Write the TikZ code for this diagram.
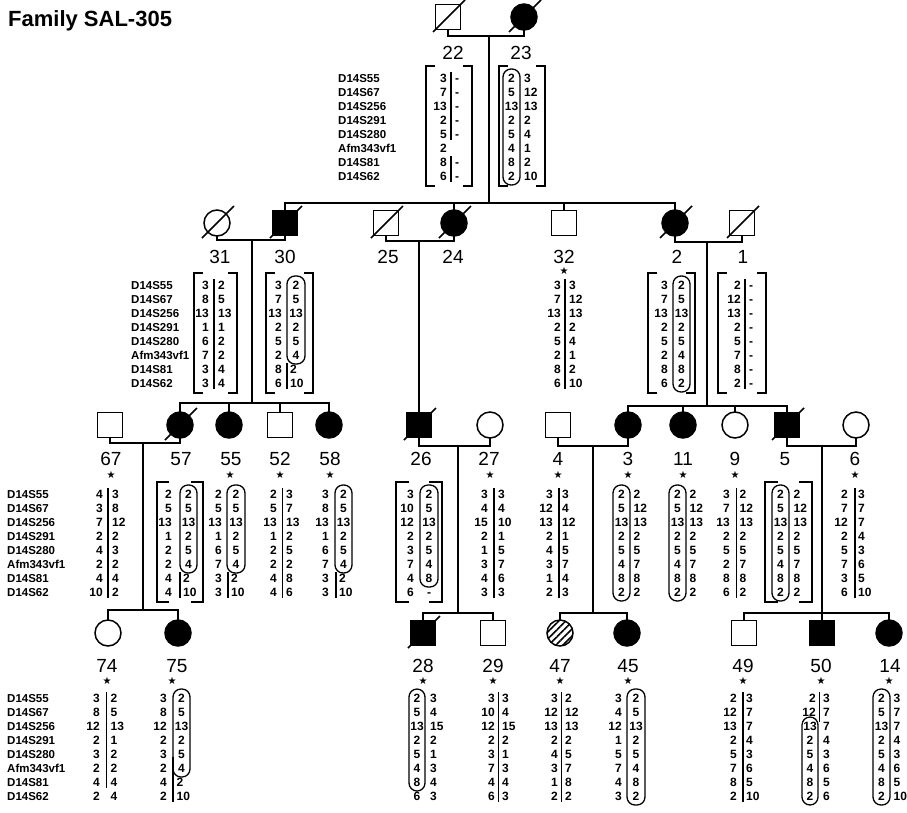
\documentclass[tikz,border=0pt]{standalone}
\usepackage{fontspec}
\setmainfont{Liberation Sans}
\newfontfamily\symfont{DejaVu Sans}
\usetikzlibrary{patterns.meta}

% column of alleles: #1 name prefix, #2 x, #3 y0, #4 anchor, #5 list, #6 first row
\newcommand{\acol}[6]{\foreach \v [count=\i from #6] in {#5} {\node[allele, anchor=#4] (#1\i) at (#2, #3+14*\i-14) {\v};}}
\newcommand{\markers}[3]{\foreach \m [count=\i] in {D14S55,D14S67,D14S256,D14S291,D14S280,Afm343vf1,D14S81,D14S62} {\node[marker] (#1\i) at (#2, #3+14*\i-14) {\m};}}
% bar: #1 x, #2 y0, #3 first row, #4 last row
\newcommand{\hbarx}[4]{\draw[hbar] (#1, #2+14*#3-20) -- (#1, #2+14*#4-8);}
% capsule: #1 x1, #2 x2, #3 y0, #4 first row, #5 last row
\newcommand{\caps}[5]{\draw[capsule] (#1, #3+14*#4-23) rectangle (#2, #3+14*#5-5);}
% brackets: #1 x, #2 y0, #3 arm length
\newcommand{\lbrk}[3]{\draw[brk] (#1+#3, #2-12) -- (#1, #2-12) -- (#1, #2+108) -- (#1+#3, #2+108);}
\newcommand{\rbrk}[3]{\draw[brk] (#1-#3, #2-12) -- (#1, #2-12) -- (#1, #2+108) -- (#1-#3, #2+108);}
\newcommand{\dec}[1]{\draw[line width=1.5pt] (#1.center) ++(-15,15) -- ++(32,-32);}

\tikzset{
  conn/.style={line width=1.5pt},
  person/.style={draw, line width=1.5pt, inner sep=0pt, outer sep=0pt},
  osq/.style={person, rectangle, minimum size=25pt, fill=white},
  fsq/.style={person, rectangle, minimum size=25pt, fill=black},
  ocirc/.style={person, circle, minimum size=26pt, fill=white},
  fcirc/.style={person, circle, minimum size=26pt, fill=black},
  hcirc/.style={person, circle, minimum size=26pt, pattern={Lines[angle=45,distance=5pt,line width=1.6pt]}},
  allele/.style={inner sep=0pt, font=\bfseries\fontsize{12}{12}\selectfont, text height=8.6pt, text depth=0pt},
  marker/.style={inner sep=0pt, font=\bfseries\fontsize{11.5}{12}\selectfont, text height=8.3pt, text depth=0pt, anchor=west},
  idlab/.style={inner sep=0pt, font=\fontsize{19}{19}\selectfont, text height=13.6pt, text depth=0pt},
  starlab/.style={inner sep=0pt, font=\symfont\fontsize{10}{10}\selectfont},
  capsule/.style={line width=1.3pt, rounded corners=8pt},
  hbar/.style={line width=1.3pt},
  brk/.style={line width=1.3pt},
}

\begin{document}
\begin{tikzpicture}[x=1pt, y=-1pt]
\useasboundingbox (0,0) rectangle (907,812);

\node[anchor=west, inner sep=0pt, font=\bfseries\fontsize{22}{22}\selectfont] (title) at (8,21) {Family SAL-305};

% ---------------- symbols ----------------
% Gen I
\node[osq] (p22) at (448,17) {}; \dec{p22}
\node[fcirc] (p23) at (524,17) {}; \dec{p23}
% Gen II
\node[ocirc] (p31) at (217,223) {}; \dec{p31}
\node[fsq] (p30) at (285,223) {}; \dec{p30}
\node[osq] (p25) at (386,223) {}; \dec{p25}
\node[fcirc] (p24) at (454,223) {}; \dec{p24}
\node[osq] (p32) at (564,223) {};
\node[fcirc] (p2) at (675,223) {}; \dec{p2}
\node[osq] (p1) at (742,223) {}; \dec{p1}
% Gen III
\node[osq] (p67) at (110,425) {};
\node[fcirc] (p57) at (180,425) {}; \dec{p57}
\node[fcirc] (p55) at (229,425) {};
\node[osq] (p52) at (280,425) {};
\node[fcirc] (p58) at (329,425) {};
\node[fsq] (p26) at (419,425) {}; \dec{p26}
\node[ocirc] (p27) at (490,425) {};
\node[osq] (p4) at (558,425) {};
\node[fcirc] (p3) at (628,425) {};
\node[fcirc] (p11) at (683,425) {};
\node[ocirc] (p9) at (735,425) {};
\node[fsq] (p5) at (787,425) {}; \dec{p5}
\node[ocirc] (p6) at (856,425) {};
% Gen IV
\node[ocirc] (p74) at (108,633) {};
\node[fcirc] (p75) at (178,633) {};
\node[fsq] (p28) at (423,633) {}; \dec{p28}
\node[osq] (p29) at (493,633) {};
\node[hcirc] (p47) at (560,633) {};
\node[fcirc] (p45) at (627,633) {};
\node[osq] (p49) at (744,633) {};
\node[fsq] (p50) at (822,633) {};
\node[fcirc] (p14) at (889,633) {};

% ---------------- connectors ----------------
\coordinate (m1) at (489,36);
\coordinate (s2) at (489,203);
\draw[conn] (p22.south) |- (m1) -| (p23.south);
\draw[conn] (m1) -- (s2);
\draw[conn] (p30.north) |- (s2) -| (p2.north);
\draw[conn] (p24.north) -- (p24.north |- s2);
\draw[conn] (p32.north) -- (p32.north |- s2);

\coordinate (m30) at (252,240);
\coordinate (m24) at (419,241);
\coordinate (m2) at (707,242);
\draw[conn] (p31.south) |- (m30) -| (p30.south);
\draw[conn] (p25.south) |- (m24) -| (p24.south);
\draw[conn] (p2.south) |- (m2) -| (p1.south);

\coordinate (s3a) at (252,403);
\draw[conn] (m30) -- (s3a);
\draw[conn] (p57.north) |- (s3a) -| (p58.north);
\draw[conn] (p55.north) -- (p55.north |- s3a);
\draw[conn] (p52.north) -- (p52.north |- s3a);
\draw[conn] (m24) -- (p26.north);
\coordinate (s3b) at (707,406);
\draw[conn] (m2) -- (s3b);
\draw[conn] (p3.north) |- (s3b) -| (p5.north);
\draw[conn] (p11.north) -- (p11.north |- s3b);
\draw[conn] (p9.north) -- (p9.north |- s3b);

\coordinate (m67) at (143,443);
\coordinate (m26) at (458,446);
\coordinate (m4) at (593,446);
\coordinate (m5) at (822,446);
\draw[conn] (p67.south) |- (m67) -| (p57.south);
\draw[conn] (p26.south) |- (m26) -| (p27.south);
\draw[conn] (p4.south) |- (m4) -| (p3.south);
\draw[conn] (p5.south) |- (m5) -| (p6.south);

\coordinate (s4a) at (143,610);
\coordinate (s4b) at (458,613);
\coordinate (s4c) at (593,613);
\coordinate (s4d) at (822,613);
\draw[conn] (m67) -- (s4a);
\draw[conn] (p74.north) |- (s4a) -| (p75.north);
\draw[conn] (m26) -- (s4b);
\draw[conn] (p28.north) |- (s4b) -| (p29.north);
\draw[conn] (m4) -- (s4c);
\draw[conn] (p47.north) |- (s4c) -| (p45.north);
\draw[conn] (m5) -- (s4d);
\draw[conn] (p49.north) |- (s4d) -| (p14.north);
\draw[conn] (p50.north) -- (s4d);

% ---------------- ID labels and stars ----------------
\node[idlab] (l22) at (453,53) {22};
\node[idlab] (l23) at (521,53) {23};
\node[idlab] (l31) at (220,257) {31};
\node[idlab] (l30) at (285,257) {30};
\node[idlab] (l25) at (388,257) {25};
\node[idlab] (l24) at (453,257) {24};
\node[idlab] (l32) at (564,257) {32};
\node[idlab] (l2) at (677,257) {2};
\node[idlab] (l1) at (743,257) {1};
\node[starlab] (st32) at (564,271) {★};

\node[idlab] (l67) at (111,459) {67};
\node[idlab] (l57) at (181,459) {57};
\node[idlab] (l55) at (231,459) {55};
\node[idlab] (l52) at (280,459) {52};
\node[idlab] (l58) at (330,459) {58};
\node[idlab] (l26) at (421,459) {26};
\node[idlab] (l27) at (489,459) {27};
\node[idlab] (l4) at (558,459) {4};
\node[idlab] (l3) at (628,459) {3};
\node[idlab] (l11) at (683,459) {11};
\node[idlab] (l9) at (735,459) {9};
\node[idlab] (l5) at (785,459) {5};
\node[idlab] (l6) at (855,459) {6};
\foreach \n/\x in {67/111,55/230,52/280,58/330,27/490,4/558,3/628,11/683,9/735,6/855}
  {\node[starlab] (st\n) at (\x,475) {★};}

\node[idlab] (l74) at (107,666) {74};
\node[idlab] (l75) at (177,666) {75};
\node[idlab] (l28) at (423,666) {28};
\node[idlab] (l29) at (493,666) {29};
\node[idlab] (l47) at (560,666) {47};
\node[idlab] (l45) at (628,666) {45};
\node[idlab] (l49) at (743,666) {49};
\node[idlab] (l50) at (821,666) {50};
\node[idlab] (l14) at (890,666) {14};
\foreach \n/\x in {74/107,75/172,28/423,29/493,47/560,45/628,49/743,50/821,14/889}
  {\node[starlab] (st\n) at (\x,681) {★};}

% ---------------- Gen I tables ----------------
\markers{mk1-}{338}{78}
% 22
\lbrk{426}{78}{9}
\acol{t22L}{447}{78}{east}{3,7,13,2,5,2,8,6}{1}
\hbarx{451}{78}{1}{5}
\hbarx{451}{78}{7}{8}
\acol{t22R}{455}{78}{west}{-,-,-,-,-}{1}
\acol{t22R}{455}{78}{west}{-,-}{7}
\rbrk{472}{78}{9}
% 23
\lbrk{499}{78}{9}
\caps{503}{520}{78}{1}{8}
\acol{t23L}{511.5}{78}{center}{2,5,13,2,5,4,8,2}{1}
\acol{t23R}{524}{78}{west}{3,12,13,2,4,1,2,10}{1}
\rbrk{545}{78}{9}

% ---------------- Gen II tables ----------------
\markers{mk2-}{131}{285}
% 31
\lbrk{194}{285}{9}
\acol{t31L}{209}{285}{east}{3,8,13,1,6,7,3,3}{1}
\hbarx{214}{285}{1}{8}
\acol{t31R}{218}{285}{west}{2,5,13,1,2,2,4,4}{1}
\rbrk{237}{285}{9}
% 30
\lbrk{266}{285}{9}
\acol{t30L}{282}{285}{east}{3,7,13,2,5,2,8,6}{1}
\caps{287}{305}{285}{1}{6}
\acol{t30R}{296}{285}{center}{2,5,13,2,5,4}{1}
\hbarx{287}{285}{7}{8}
\acol{t30R}{290}{285}{west}{2,10}{7}
\rbrk{313}{285}{9}
% 32
\acol{t32L}{561}{285}{east}{3,7,13,2,5,2,8,6}{1}
\hbarx{565}{285}{1}{8}
\acol{t32R}{569}{285}{west}{3,12,13,2,4,1,2,10}{1}
% 2
\lbrk{648}{285}{9}
\acol{t2L}{668}{285}{east}{3,7,13,2,5,2,8,6}{1}
\caps{673}{690}{285}{1}{8}
\acol{t2R}{681.5}{285}{center}{2,5,13,2,5,4,8,2}{1}
\rbrk{695}{285}{9}
% 1
\lbrk{718}{285}{9}
\acol{t1L}{741}{285}{east}{2,12,13,2,5,7,8,2}{1}
\hbarx{745}{285}{1}{8}
\acol{t1R}{749}{285}{west}{-,-,-,-,-,-,-,-}{1}
\rbrk{766}{285}{9}

% ---------------- Gen III tables ----------------
\markers{mk3-}{7}{494}
% 67
\acol{t67L}{103}{494}{east}{4,3,7,2,4,2,4,10}{1}
\hbarx{108}{494}{1}{8}
\acol{t67R}{112}{494}{west}{3,8,12,2,3,2,4,2}{1}
% 57
\lbrk{157}{494}{12}
\acol{t57L}{172}{494}{east}{2,5,13,1,2,2,4,4}{1}
\caps{180}{197}{494}{1}{6}
\acol{t57R}{188.5}{494}{center}{2,5,13,2,5,4}{1}
\hbarx{180}{494}{7}{8}
\acol{t57R}{183}{494}{west}{2,10}{7}
\rbrk{203}{494}{12}
% 55
\acol{t55L}{222}{494}{east}{2,5,13,1,6,7,3,3}{1}
\caps{227}{245}{494}{1}{6}
\acol{t55R}{236}{494}{center}{2,5,13,2,5,4}{1}
\hbarx{228}{494}{7}{8}
\acol{t55R}{231}{494}{west}{2,10}{7}
% 52
\acol{t52L}{277}{494}{east}{2,5,13,1,2,2,4,4}{1}
\hbarx{282.5}{494}{1}{8}
\acol{t52R}{286}{494}{west}{3,7,13,2,5,2,8,6}{1}
% 58
\acol{t58L}{329}{494}{east}{3,8,13,1,6,7,3,3}{1}
\caps{335}{352}{494}{1}{6}
\acol{t58R}{343.5}{494}{center}{2,5,13,2,5,4}{1}
\hbarx{336}{494}{7}{8}
\acol{t58R}{339}{494}{west}{2,10}{7}
% 26
\lbrk{396}{494}{13}
\acol{t26L}{414}{494}{east}{3,10,12,2,3,7,4,6}{1}
\caps{420}{438}{494}{1}{7}
\acol{t26R}{429}{494}{center}{2,5,13,2,5,4,8,-}{1}
\rbrk{442}{494}{13}
% 27
\acol{t27L}{488}{494}{east}{3,4,15,2,1,3,4,3}{1}
\hbarx{494}{494}{1}{8}
\acol{t27R}{498}{494}{west}{3,4,10,1,5,7,6,3}{1}
% 4
\acol{t4L}{553}{494}{east}{3,12,13,2,4,3,1,2}{1}
\hbarx{559}{494}{1}{8}
\acol{t4R}{562}{494}{west}{3,4,12,1,5,7,4,3}{1}
% 3
\caps{613}{630}{494}{1}{8}
\acol{t3L}{621.5}{494}{center}{2,5,13,2,5,4,8,2}{1}
\acol{t3R}{633.5}{494}{west}{2,12,13,2,5,7,8,2}{1}
% 11
\caps{669}{686}{494}{1}{8}
\acol{t11L}{677.5}{494}{center}{2,5,13,2,5,4,8,2}{1}
\acol{t11R}{689.5}{494}{west}{2,12,13,2,5,7,8,2}{1}
% 9
\acol{t9L}{730}{494}{east}{3,7,13,2,5,2,8,6}{1}
\hbarx{736.5}{494}{1}{8}
\acol{t9R}{739.5}{494}{west}{2,12,13,2,5,7,8,2}{1}
% 5
\lbrk{765}{494}{13}
\caps{772}{789}{494}{1}{8}
\acol{t5L}{780.5}{494}{center}{2,5,13,2,5,4,8,2}{1}
\acol{t5R}{793.5}{494}{west}{2,12,13,2,5,7,8,2}{1}
\rbrk{812}{494}{13}
% 6
\acol{t6L}{848}{494}{east}{2,7,12,2,5,7,3,6}{1}
\hbarx{855}{494}{1}{8}
\acol{t6R}{858}{494}{west}{3,7,7,4,3,6,5,10}{1}

% ---------------- Gen IV tables ----------------
\markers{mk4-}{7}{698}
% 74
\acol{t74L}{100}{698}{east}{3,8,12,2,3,2,4,2}{1}
\hbarx{106.5}{698}{1}{7}
\acol{t74R}{110.5}{698}{west}{2,5,13,1,2,2,4,4}{1}
% 75
\acol{t75L}{167}{698}{east}{3,8,12,2,3,2,4,2}{1}
\caps{173}{190}{698}{1}{6}
\acol{t75R}{181.5}{698}{center}{2,5,13,2,5,4}{1}
\draw[hbar] (173,757) -- (173,802);
\acol{t75R}{176.5}{698}{west}{2,10}{7}
% 28
\caps{409}{425}{698}{1}{7}
\acol{t28L}{417}{698}{center}{2,5,13,2,5,4,8,6}{1}
\acol{t28R}{430}{698}{west}{3,4,15,2,1,3,4,3}{1}
% 29
\acol{t29L}{495}{698}{east}{3,10,12,2,3,7,4,6}{1}
\hbarx{498.5}{698}{1}{8}
\acol{t29R}{502}{698}{west}{3,4,15,2,1,3,4,3}{1}
% 47
\acol{t47L}{558}{698}{east}{3,12,13,2,4,3,1,2}{1}
\hbarx{561.5}{698}{1}{8}
\acol{t47R}{565}{698}{west}{2,12,13,2,5,7,8,2}{1}
% 45
\acol{t45L}{622}{698}{east}{3,4,12,1,5,7,4,3}{1}
\caps{627}{645}{698}{1}{8}
\acol{t45R}{636}{698}{center}{2,5,13,2,5,4,8,2}{1}
% 49
\acol{t49L}{737}{698}{east}{2,12,13,2,5,7,8,2}{1}
\hbarx{743}{698}{1}{8}
\acol{t49R}{746}{698}{west}{3,7,7,4,3,6,5,10}{1}
% 50
\acol{t50L}{816}{698}{east}{2,12}{1}
\draw[hbar] (819.5,692) -- (819.5,722);
\caps{802}{818}{698}{3}{8}
\acol{t50L}{810}{698}{center}{13,2,5,4,8,2}{3}
\acol{t50R}{823}{698}{west}{3,7,7,4,3,6,5,6}{1}
% 14
\caps{873}{890}{698}{1}{8}
\acol{t14L}{881.5}{698}{center}{2,5,13,2,5,4,8,2}{1}
\acol{t14R}{893.5}{698}{west}{3,7,7,4,3,6,5,10}{1}

\end{tikzpicture}
\end{document}
